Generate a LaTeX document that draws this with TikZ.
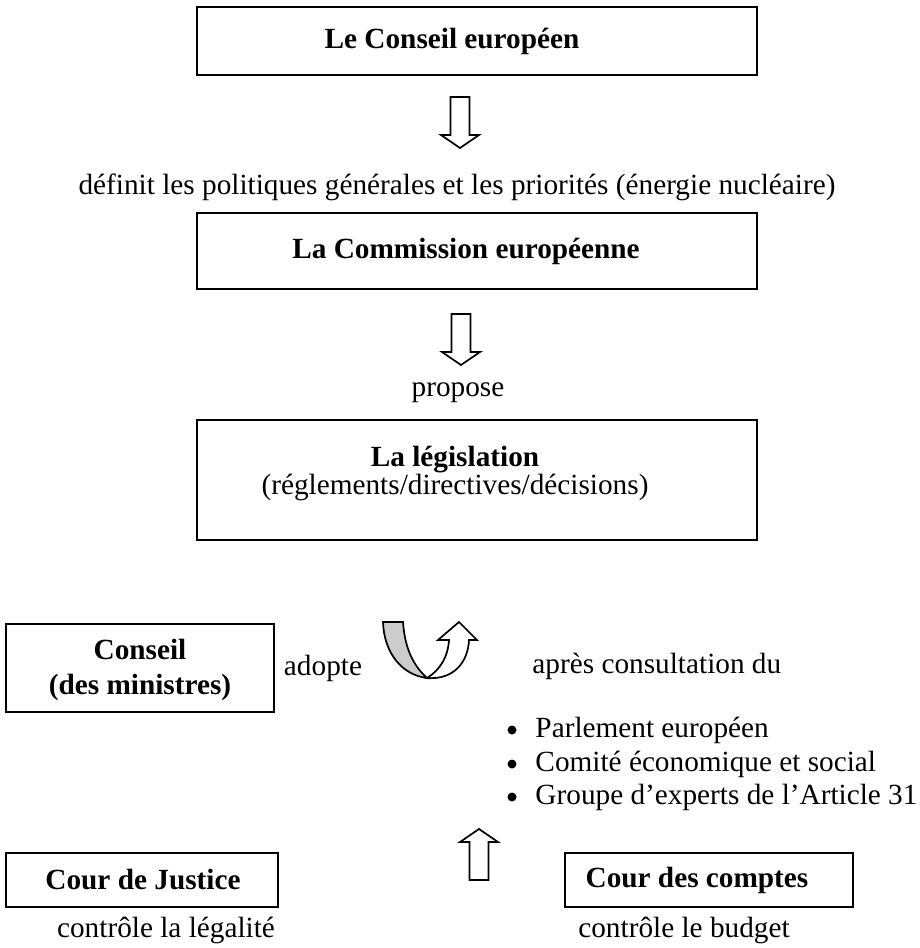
\documentclass[tikz,border=0pt]{standalone}
\usepackage{fontspec}
\setmainfont{Liberation Serif}
\usetikzlibrary{positioning}

\def\px{0.41pt}
\tikzset{
  box/.style={draw, line width=0.8pt, inner sep=0pt},
  txt/.style={inner sep=0pt, align=center, font=\fontsize{12}{14.4}\selectfont},
  btxt/.style={inner sep=0pt, align=center, font=\fontsize{12}{14.4}\selectfont\bfseries},
  dot/.style={circle, fill, inner sep=0pt, minimum size=9*\px},
  blockarrow/.pic={
    \draw[line width=0.7pt, fill=white] (-9.5,0) -- (9.5,0) -- (9.5,38) -- (19,38)
      -- (0,51) -- (-19,38) -- (-9.5,38) -- cycle;
  }
}

\begin{document}
\begin{tikzpicture}[x=0.41pt, y=-0.41pt]
	\useasboundingbox (0,0) rectangle (920,948);

	% Le Conseil europeen
	\node[box, minimum width=560*\px, minimum height=68*\px] (ce) at (477,41) {};
	\node[btxt] (cetext) at (452,41) {Le Conseil européen};
	\pic at (460,97) {blockarrow};
	\node[txt] (definit) at (457,187) {définit les politiques générales et les priorités (énergie nucléaire)};

	% La Commission
	\node[box, minimum width=560*\px, minimum height=76*\px] (com) at (477,251) {};
	\node[btxt] (comtext) at (466,251) {La Commission européenne};
	\pic at (461,314) {blockarrow};
	\node[txt] (propose) at (458,393) {propose};

	% La legislation
	\node[box, minimum width=560*\px, minimum height=120*\px] (leg) at (477,480) {};
	\node[btxt] (legtext) at (455,460) {La législation};
	\node[txt] (legsub) at (455,487) {(réglements/directives/décisions)};

	% Conseil des ministres
	\node[box, minimum width=268*\px, minimum height=88*\px] (cm) at (140,668) {};
	\node[btxt] (cmtext) at (140,670) {Conseil\\(des ministres)};
	\node[txt] (adopte) at (323,668) {adopte};

	% adopte arrow
	\draw[line width=0.7pt, fill=black!20] (383,622) -- (403,622)
		.. controls (405,650) and (414,666) .. (427,678)
		.. controls (402,675) and (384,653) .. (383,622) -- cycle;
	\draw[line width=0.7pt, fill=white] (427,678)
		.. controls (454,680) and (468,662) .. (469,640) -- (477,640) -- (459,622)
		-- (438,640) -- (449,640) .. controls (448,657) and (440,670) .. (427,678) -- cycle;

	% consultation
	\node[txt, anchor=west] (apres) at (532,666) {après consultation du};
	\foreach \y/\name/\t in {730/pe/Parlement européen, 764/ces/Comité économique et social, 797/ga/Groupe d’experts de l’Article 31} {
		\node[dot] (\name dot) at (512,\y) {};
		\node[txt, anchor=west] (\name) at (535,\y) {\t};
	}
	\pic[rotate=180] at (479,880) {blockarrow};

	% Cours
	\node[box, minimum width=272*\px, minimum height=54*\px] (cj) at (142,880) {};
	\node[btxt] (cjtext) at (143,880) {Cour de Justice};
	\node[txt] (legalite) at (166,930) {contrôle la légalité};
	\node[box, minimum width=288*\px, minimum height=54*\px] (cc) at (709,880) {};
	\node[btxt] (cctext) at (697,880) {Cour des comptes};
	\node[txt] (budget) at (684,930) {contrôle le budget};

\end{tikzpicture}
\end{document}
